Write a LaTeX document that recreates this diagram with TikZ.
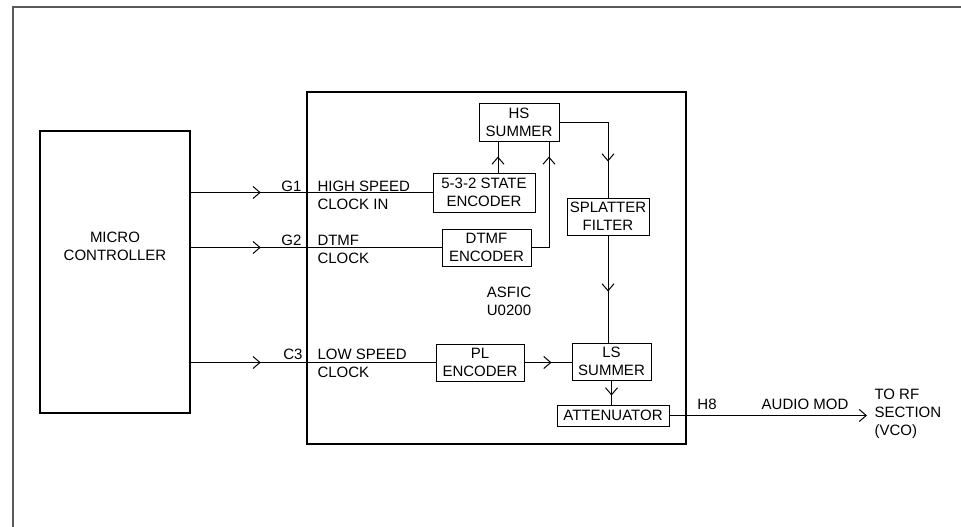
\documentclass[tikz,border=0pt]{standalone}
\usepackage{fontspec}
\setmainfont{Liberation Sans}
\usetikzlibrary{arrows.meta,decorations.markings}

\begin{document}
\begin{tikzpicture}[
    x=1pt, y=-1pt,
    font=\fontsize{15}{18}\selectfont,
    line width=1pt,
    blk/.style={rectangle, draw, inner sep=0pt, align=center},
    lbl/.style={inner sep=0pt, align=left},
    marr/.style={postaction={decorate}, decoration={markings,
        mark=at position #1 with {\arrow{Straight Barb[length=7pt,width=12pt,line width=1pt]}}}},
  ]
  \useasboundingbox (0,0) rectangle (961,527);

  %% ===== page frame (top and left only) =====
  \draw[gray!70!black, line width=1.5pt] (13,527) -- (13,7) -- (961,7);

  %% ===== micro controller (left) =====
  \node[blk, line width=1.5pt, minimum width=150pt, minimum height=282pt] (mcu) at (115,272) {};
  \node[lbl, align=center] (mcutxt) at (115,246) {MICRO\\CONTROLLER};

  %% ===== ASFIC outer box =====
  \node[blk, line width=2pt, minimum width=379pt, minimum height=352pt] (asfic) at (496.5,268) {};
  \node[lbl, align=center] (asfictxt) at (509,301) {ASFIC\\U0200};

  %% blocks inside the ASFIC
  \node[blk, minimum width=80pt,  minimum height=38pt] (hs)     at (519,122)   {HS\\SUMMER};
  \node[blk, minimum width=102pt, minimum height=39pt] (enc532) at (484,192.5) {5-3-2 STATE\\ENCODER};
  \node[blk, minimum width=82pt,  minimum height=37pt] (split)  at (608,216.5) {SPLATTER\\FILTER};
  \node[blk, minimum width=89pt,  minimum height=37pt] (dtmf)   at (486.5,247.5) {DTMF\\ENCODER};
  \node[blk, minimum width=88pt,  minimum height=37pt] (pl)     at (480,362.5) {PL\\ENCODER};
  \node[blk, minimum width=79pt,  minimum height=37pt] (ls)     at (611.5,361.5) {LS\\SUMMER};
  \node[blk, minimum width=112pt, minimum height=21pt] (att)    at (613,415.5) {ATTENUATOR};

  %% pin names and input labels
  \node[lbl, anchor=east] (g1) at (302,186) {G1};
  \node[lbl, anchor=east] (g2) at (302,240) {G2};
  \node[lbl, anchor=east] (c3) at (303,354) {C3};
  \node[lbl, anchor=west] (hsclk) at (317,195) {HIGH SPEED\\CLOCK IN};
  \node[lbl, anchor=west] (dtclk) at (317,249) {DTMF\\CLOCK};
  \node[lbl, anchor=west] (lsclk) at (317,363) {LOW SPEED\\CLOCK};

  %% ===== clock lines from the micro controller =====
  \draw[marr=70pt] (enc532.west -| mcu.east) -- (enc532.west);
  \draw[marr=70pt] (dtmf.west -| mcu.east) -- (dtmf.west);
  \draw[marr=70pt] (pl.west -| mcu.east) -- (pl.west);

  %% ===== inner signal flow =====
  \draw[marr=-15pt] ([xshift=14pt]enc532.north) -- ([xshift=-21pt]hs.south);
  \draw[marr=-15pt] (dtmf.east) -| ([xshift=30pt]hs.south);
  \draw[marr=-36pt] (hs.east) -| (split.north);
  \draw[marr=-51pt] (split.south) -- (split.south |- ls.north);
  \draw[marr=-20pt] (pl.east) -- (pl.east -| ls.west);
  \draw[marr=-9pt]  (ls.south) -- (ls.south |- att.north);

  %% ===== output to RF section =====
  \node[lbl, anchor=west, inner xsep=7pt] (rf) at (867,414) {TO RF\\SECTION\\(VCO)};
  \node[lbl] (h8) at (707,404) {H8};
  \node[lbl] (amod) at (805,404) {AUDIO MOD};
  \draw[-{Straight Barb[length=7pt,width=12pt]}] (att.east) -- (att.east -| rf.west);

\end{tikzpicture}
\end{document}
